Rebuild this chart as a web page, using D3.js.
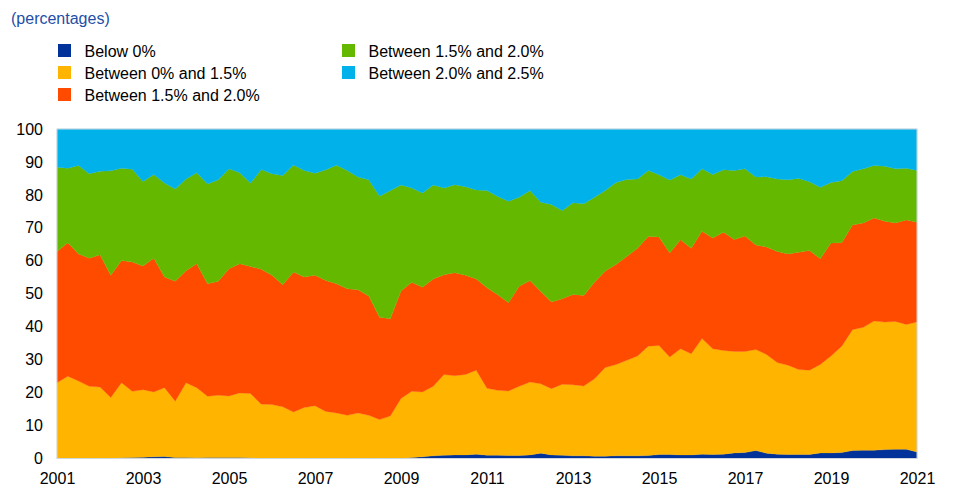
<!DOCTYPE html>
<html>
<head>
<meta charset="utf-8">
<script src="https://cdn.jsdelivr.net/npm/d3@7"></script>
<style>
  html, body { margin: 0; padding: 0; background: #fff; }
  svg { display: block; font-family: "Liberation Sans", Arial, sans-serif; }
</style>
</head>
<body>
<svg id="chart" width="957" height="498"></svg>
<script>
// Quarterly observations, 2001 Q1 – 2021 Q1 (81 points)
const periods = d3.range(81).map(i => 2001 + i / 4);

const seriesNames = [
  "Below 0%",
  "Between 0% and 1.5%",
  "Between 1.5% and 2.0%",
  "Between 1.5% and 2.0%",
  "Between 2.0% and 2.5%"
];
const seriesKeys = ["below0", "b0to15", "b15to20a", "b15to20b", "b20to25"];
const seriesColors = ["#003299", "#FFB400", "#FF4B00", "#65B800", "#00B1EA"];

const below0 = [
  0.1,0.1,0.1,0.1,0.1,0.1,0.2,0.3,0.4,0.5,0.6,0.3,0.3,0.2,0.3,0.3,0.3,0.3,0.2,0.1,
  0.1,0.1,0.1,0.1,0.1,0.1,0.1,0.1,0.1,0.1,0.1,0.1,0.1,0.3,0.5,0.8,1.0,1.1,1.1,1.3,
  1.0,1.0,0.9,0.9,1.1,1.6,1.1,1.0,0.8,0.8,0.7,0.7,0.8,0.8,0.8,0.9,1.2,1.2,1.1,1.1,
  1.3,1.2,1.3,1.7,1.8,2.4,1.6,1.3,1.2,1.2,1.2,1.7,1.7,1.8,2.4,2.5,2.5,2.7,2.8,2.8,
  2.0
];
const b0to15 = [
  22.9,24.9,23.4,21.8,21.6,18.4,22.8,20.1,20.5,19.7,20.9,17.1,22.7,21.3,18.6,18.9,18.7,19.6,19.5,16.4,
  16.3,15.6,14.0,15.4,15.9,14.2,13.7,13.0,13.7,13.0,11.7,12.8,18.1,20.1,19.7,21.1,24.5,24.0,24.4,25.5,
  20.3,19.7,19.6,21.0,22.1,21.1,20.1,21.5,21.6,21.2,23.5,26.9,27.7,29.0,30.3,33.2,33.1,29.6,32.2,30.7,
  35.1,32.1,31.5,30.8,30.7,30.7,30.0,27.8,27.1,25.8,25.6,26.8,29.4,32.3,36.7,37.3,39.2,38.7,38.8,37.9,
  39.4
];
const b15to20a = [
  39.8,40.5,38.6,38.9,40.1,37.1,37.1,39.2,37.5,40.6,33.6,36.4,34.0,37.6,34.1,34.6,38.6,39.2,38.6,40.9,
  39.2,37.0,42.5,39.6,39.6,39.7,39.2,38.4,37.4,36.2,31.1,29.5,32.6,33.1,31.8,32.6,30.3,31.3,30.1,27.7,
  30.5,29.0,26.8,30.4,30.8,28.0,26.3,26.0,27.4,27.5,29.3,29.3,30.4,31.5,32.7,33.3,32.9,31.6,33.1,32.0,
  32.6,33.6,35.9,34.0,35.0,31.7,32.6,33.7,33.8,35.6,36.3,32.1,34.3,31.4,31.8,31.7,31.3,30.6,29.9,31.7,
  30.3
];
const b15to20b = [
  25.6,22.6,26.8,25.6,25.4,31.7,28.0,28.2,25.7,25.4,28.5,28.0,27.8,27.6,30.3,30.8,30.3,27.6,25.3,30.3,
  30.8,33.2,32.5,32.3,31.0,33.6,36.0,35.9,34.2,35.3,36.7,38.9,32.2,28.6,28.6,28.5,26.3,26.7,26.9,27.0,
  29.5,29.8,30.8,27.0,27.3,27.1,29.6,26.8,27.8,27.8,25.8,24.4,24.9,23.4,21.0,20.0,18.9,22.1,19.7,21.0,
  18.9,19.3,18.9,20.9,20.4,20.6,21.3,22.0,22.5,22.4,20.9,21.7,18.4,18.8,16.2,16.4,15.9,16.7,16.4,15.7,
  15.7
];
const b20to25 = [
  11.6,11.9,11.1,13.6,12.8,12.7,11.9,12.2,15.9,13.8,16.4,18.2,15.2,13.3,16.7,15.4,12.1,13.3,16.4,12.3,
  13.6,14.1,10.9,12.6,13.4,12.4,11.0,12.6,14.6,15.4,20.4,18.7,17.0,17.9,19.4,17.0,17.9,16.9,17.5,18.5,
  18.7,20.5,21.9,20.7,18.7,22.2,22.9,24.7,22.4,22.7,20.7,18.7,16.2,15.3,15.2,12.6,13.9,15.5,13.9,15.2,
  12.1,13.8,12.4,12.6,12.1,14.6,14.5,15.2,15.4,15.0,16.0,17.7,16.2,15.7,12.9,12.1,11.1,11.3,12.1,11.9,
  12.6
];

const yTicks = [0, 10, 20, 30, 40, 50, 60, 70, 80, 90, 100];
const xTickYears = [2001, 2003, 2005, 2007, 2009, 2011, 2013, 2015, 2017, 2019, 2021];

// ---- build table ----
const valueArrays = [below0, b0to15, b15to20a, b15to20b, b20to25];
const table = periods.map((p, i) => {
  const row = { t: p };
  seriesKeys.forEach((k, j) => row[k] = valueArrays[j][i]);
  return row;
});
const stacked = d3.stack().keys(seriesKeys)(table);

// ---- layout ----
const svg = d3.select("#chart");
const margin = { left: 57, right: 40, top: 129, bottom: 39.5 };
const W = 957, H = 498;
const x = d3.scaleLinear().domain([2001, 2021]).range([margin.left, W - margin.right]);
const y = d3.scaleLinear().domain([0, 100]).range([H - margin.bottom, margin.top]);

// title
svg.append("text")
  .attr("x", 11).attr("y", 23.5)
  .attr("fill", "#1f4ea6")
  .attr("font-size", 16)
  .text("(percentages)");

// legend
const legendPos = [
  { x: 58, y: 44 }, { x: 58, y: 66 }, { x: 58, y: 88 },
  { x: 342, y: 44 }, { x: 342, y: 66 }
];
const lg = svg.append("g");
seriesNames.forEach((name, i) => {
  const p = legendPos[i];
  lg.append("rect").attr("x", p.x).attr("y", p.y).attr("width", 13).attr("height", 13)
    .attr("fill", seriesColors[i]);
  lg.append("text").attr("x", p.x + 26.5).attr("y", p.y + 12.5)
    .attr("font-size", 16).attr("fill", "#000").text(name);
});

// areas
const area = d3.area()
  .x(d => x(d.data.t))
  .y0(d => y(d[0]))
  .y1(d => y(d[1]));

svg.append("g").selectAll("path")
  .data(stacked)
  .join("path")
  .attr("d", area)
  .attr("fill", (d, i) => seriesColors[i])
  .attr("stroke", (d, i) => seriesColors[i])
  .attr("stroke-width", 0.3);

// plot frame
svg.append("rect")
  .attr("x", x(2001)).attr("y", y(100))
  .attr("width", x(2021) - x(2001)).attr("height", y(0) - y(100))
  .attr("fill", "none").attr("stroke", "#cfd6de").attr("stroke-width", 1);

// y axis
const yAxis = d3.axisLeft(y).tickValues(yTicks).tickSize(0).tickPadding(14);
const yg = svg.append("g").attr("transform", `translate(${x(2001)},0)`).call(yAxis);
yg.select(".domain").remove();
yg.selectAll("text").attr("font-size", 16).attr("fill", "#000")
  .attr("font-family", "Liberation Sans, Arial, sans-serif");

// x axis
const xAxis = d3.axisBottom(x).tickValues(xTickYears).tickFormat(d3.format("d")).tickSize(0).tickPadding(14);
const xg = svg.append("g").attr("transform", `translate(0,${y(0)})`).call(xAxis);
xg.select(".domain").remove();
xg.selectAll("text").attr("font-size", 16).attr("fill", "#000")
  .attr("font-family", "Liberation Sans, Arial, sans-serif");
</script>
</body>
</html>
